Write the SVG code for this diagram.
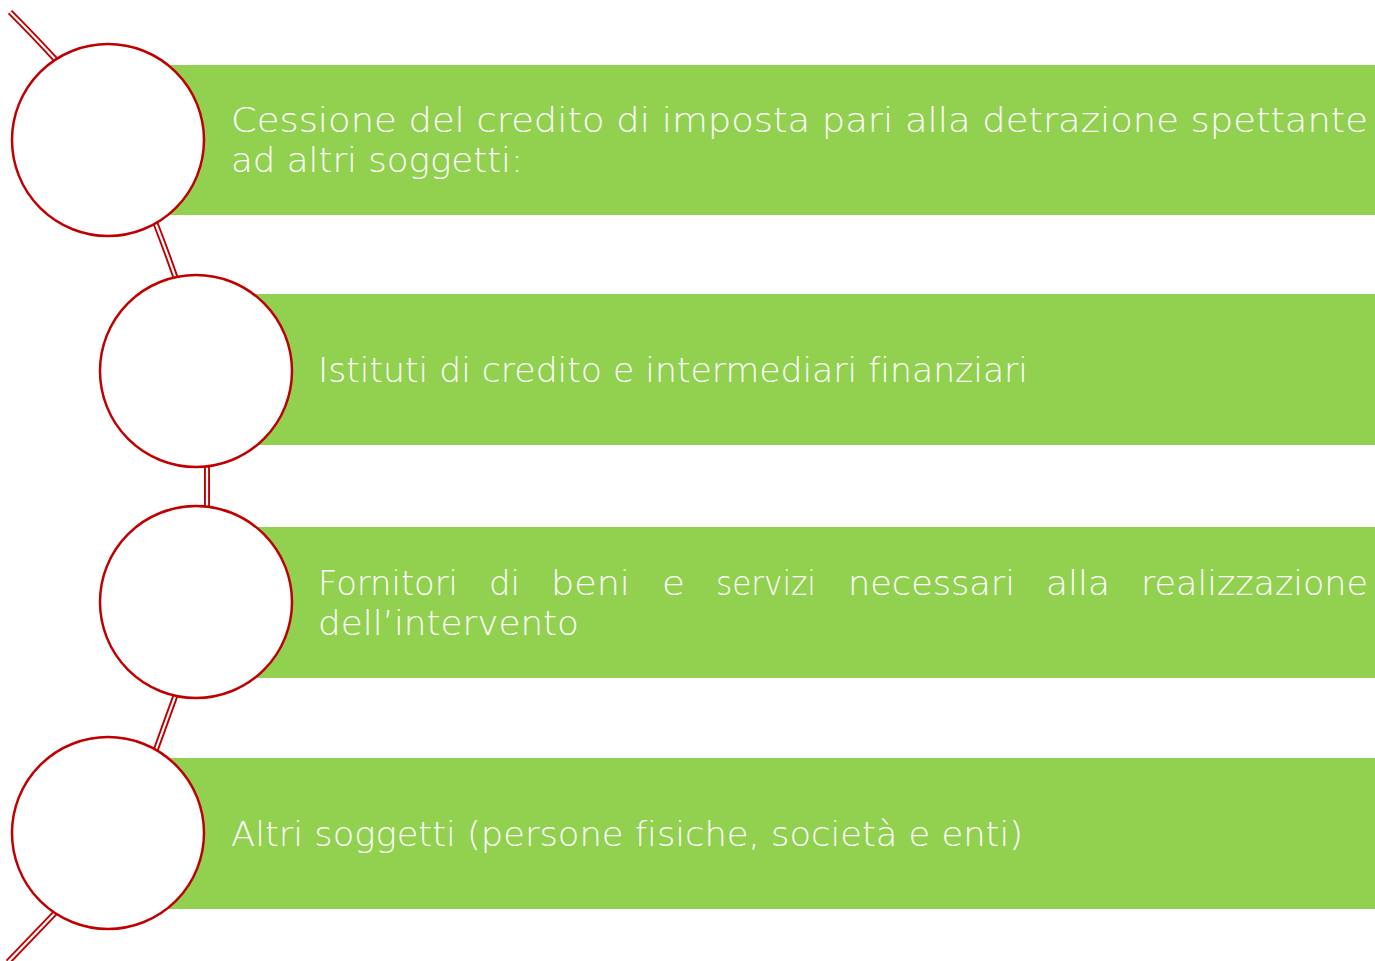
<svg xmlns="http://www.w3.org/2000/svg" width="1375" height="961" viewBox="0 0 1375 961">
<style>
.bar{fill:#92D050}
.node circle{fill:#FFFFFF;stroke:#C00000;stroke-width:2.5}
.txt{fill:#FFFFFF;font-family:"DejaVu Sans","Liberation Sans",sans-serif;font-weight:200;font-size:33px;font-variant-ligatures:none}
.outer{fill:none;stroke:#C00000;stroke-width:6}
.inner{fill:none;stroke:#FFFFFF;stroke-width:2.2}
</style>
<rect width="1375" height="961" fill="#FFFFFF"/>
<g id="connectors">
<path class="outer" d="M10,12 Q32,34 56,60"/>
<path class="inner" d="M10,12 Q32,34 56,60"/>
<path class="outer" d="M155,222 Q166,250 176,279"/>
<path class="inner" d="M155,222 Q166,250 176,279"/>
<path class="outer" d="M207,463 L207,509"/>
<path class="inner" d="M207,463 L207,509"/>
<path class="outer" d="M176,694 Q166,722 155,752"/>
<path class="inner" d="M176,694 Q166,722 155,752"/>
<path class="outer" d="M56,912 Q32,937 8,962"/>
<path class="inner" d="M56,912 Q32,937 8,962"/>
</g>
<g id="node1" class="node">
<rect class="bar" x="108" y="65" width="1267" height="150"/>
<circle cx="108" cy="140" r="96"/>
<text class="txt" x="231" y="132" textLength="1137" lengthAdjust="spacingAndGlyphs">Cessione del credito di imposta pari alla detrazione spettante</text>
<text class="txt" x="231" y="172" textLength="292" lengthAdjust="spacingAndGlyphs">ad altri soggetti:</text>
</g>
<g id="node2" class="node">
<rect class="bar" x="196" y="294" width="1179" height="151"/>
<circle cx="196" cy="371" r="96"/>
<text class="txt" x="318" y="382" textLength="710" lengthAdjust="spacingAndGlyphs">Istituti di credito e intermediari finanziari</text>
</g>
<g id="node3" class="node">
<rect class="bar" x="196" y="527" width="1179" height="151"/>
<circle cx="196" cy="602" r="96"/>
<text class="txt" y="595"><tspan x="318" textLength="140" lengthAdjust="spacingAndGlyphs">Fornitori</tspan><tspan x="489" textLength="31" lengthAdjust="spacingAndGlyphs">di</tspan><tspan x="551" textLength="79" lengthAdjust="spacingAndGlyphs">beni</tspan><tspan x="662" textLength="23" lengthAdjust="spacingAndGlyphs">e</tspan><tspan x="716" textLength="100" lengthAdjust="spacingAndGlyphs">servizi</tspan><tspan x="848" textLength="167" lengthAdjust="spacingAndGlyphs">necessari</tspan><tspan x="1046" textLength="64" lengthAdjust="spacingAndGlyphs">alla</tspan><tspan x="1141" textLength="227" lengthAdjust="spacingAndGlyphs">realizzazione</tspan></text>
<text class="txt" x="318" y="635" textLength="261" lengthAdjust="spacingAndGlyphs">dell’intervento</text>
</g>
<g id="node4" class="node">
<rect class="bar" x="108" y="758" width="1267" height="151"/>
<circle cx="108" cy="833" r="96"/>
<text class="txt" x="231" y="846" textLength="792" lengthAdjust="spacingAndGlyphs">Altri soggetti (persone fisiche, società e enti)</text>
</g>
</svg>
